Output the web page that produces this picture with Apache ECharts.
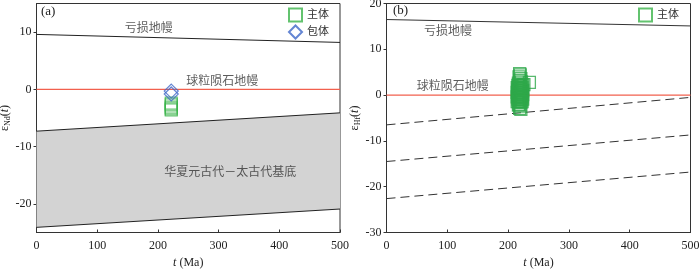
<!DOCTYPE html>
<html><head><meta charset="utf-8">
<script src="https://cdn.jsdelivr.net/npm/echarts@6/dist/echarts.min.js"></script>
<style>html,body{margin:0;padding:0;background:#fff}#c{width:700px;height:269px}</style>
</head><body><div id="c"></div>
<script>
// ---- Data ----
var xTicks = [0, 100, 200, 300, 400, 500];
var yTicksA = [-20, -10, 0, 10];
var yTicksB = [-30, -20, -10, 0, 10, 20];
// Panel (a) εNd(t)
var dmA = [[0, 9.6], [500, 8.2]];
var churA = [[0, 0], [500, 0]];
var baseUpperA = [[0, -7.3], [500, -4.1]];
var baseLowerA = [[0, -24.1], [500, -20.9]];
var mainA = [[222, -2.4], [222, -2.7], [222, -3.1], [222, -3.4], [222, -3.6]];
var inclA = [[222, -0.3], [222, -0.8]];
// Panel (b) εHf(t)
var dmB = [[0, 16.5], [500, 15.1]];
var churB = [[0, 0], [500, 0]];
var dash1B = [[0, -6.5], [500, -0.5]];
var dash2B = [[0, -14.5], [500, -8.7]];
var dash3B = [[0, -22.6], [500, -16.8]];
var mainB = [
  [219,4.7],[220,4.4],[218,4.0],[221,3.6],[219,3.2],[235,2.8],[226,2.3],[217,2.6],[222,2.9],
  [216,2.1],[220,2.0],[224,2.2],[218,2.3],
  [215,1.6],[217,1.5],[219,1.7],[221,1.4],[223,1.6],
  [216,1.1],[218,1.0],[220,1.2],[222,0.9],[224,1.0],
  [215,0.6],[217,0.5],[219,0.7],[221,0.4],[223,0.6],
  [216,0.1],[218,0.0],[220,0.2],[222,-0.1],[224,0.1],
  [215,-0.4],[217,-0.5],[219,-0.3],[221,-0.6],[223,-0.4],
  [216,-0.9],[218,-1.0],[220,-0.8],[222,-1.1],[224,-0.9],
  [215,-1.4],[217,-1.5],[219,-1.3],[221,-1.6],[223,-1.4],
  [218,-2.0],[220,-2.4],[219,-2.9],[221,-3.1],[217,-2.2]
];
// Annotations [x, y, text]
var notesA = [[185, 10.5, '亏损地幔'], [306, 1.3, '球粒陨石地幔'], [319, -14.6, '华夏元古代－太古代基底']];
var notesB = [[101, 13.8, '亏损地幔'], [109, 1.7, '球粒陨石地幔']];

var FONT = '"Liberation Serif", "Noto Sans CJK SC", serif';
var GREEN = '#3cb44b', GREEN_B = '#2ea84a', BLUE = '#3d66c8', RED = '#f2604e', DARK = '#222';

function xAxis(idx) {
  return {
    type: 'value', gridIndex: idx, min: 0, max: 500, interval: 100,
    name: '{i|t} (Ma)', nameLocation: 'middle', nameGap: 24,
    nameTextStyle: { fontFamily: FONT, fontSize: 12, color: DARK, rich: { i: { fontStyle: 'italic', fontFamily: FONT, fontSize: 12 } } },
    axisLine: { onZero: false, lineStyle: { color: '#333', width: 1 } },
    axisTick: { inside: true, length: 3, lineStyle: { color: '#333' } },
    axisLabel: { fontFamily: FONT, fontSize: 12, color: DARK, margin: 7, customValues: xTicks },
    splitLine: { show: false }
  };
}
function yAxis(idx, min, max, ticks, sub) {
  return {
    type: 'value', gridIndex: idx, min: min, max: max, interval: 5,
    name: '{e|ε}{s|' + sub + '}{e|(}{i|t}{e|)}', nameLocation: 'middle', nameGap: 24, nameRotate: 90,
    nameTextStyle: { color: DARK, rich: {
      e: { fontFamily: FONT, fontSize: 12, color: DARK },
      i: { fontFamily: FONT, fontSize: 12, fontStyle: 'italic', color: DARK },
      s: { fontFamily: FONT, fontSize: 8, color: DARK, padding: [6, 0, 0, 0] } } },
    axisLine: { onZero: false, lineStyle: { color: '#333', width: 1 } },
    axisTick: { inside: false, length: 3, lineStyle: { color: '#333' }, customValues: ticks },
    axisLabel: { fontFamily: FONT, fontSize: 12, color: DARK, margin: 5, customValues: ticks },
    splitLine: { show: false }
  };
}
function line(idx, data, color, dashed, extra) {
  var s = { type: 'line', xAxisIndex: idx, yAxisIndex: idx, data: data, symbol: 'none', silent: true,
    lineStyle: { color: color, width: 1, type: dashed ? [9, 5] : 'solid' }, z: 3 };
  if (extra) for (var k in extra) s[k] = extra[k];
  return s;
}
function notes(idx, arr) {
  return { type: 'scatter', xAxisIndex: idx, yAxisIndex: idx, symbolSize: 0, silent: true, z: 5,
    data: arr.map(function (d) { return { value: [d[0], d[1]], label: { formatter: d[2] } }; }),
    label: { show: true, position: 'inside', fontFamily: FONT, fontSize: 12, color: '#333' } };
}

var option = {
  backgroundColor: '#fff',
  animation: false,
  grid: [
    { left: 36.5, right: 360, top: 3.5, bottom: 36.5, show: true, borderColor: '#333', borderWidth: 1,
      backgroundColor: 'transparent', outerBoundsMode: 'none', containLabel: false },
    { left: 386.5, right: 9.5, top: 3.5, bottom: 36.5, show: true, borderColor: '#333', borderWidth: 1,
      backgroundColor: 'transparent', outerBoundsMode: 'none', containLabel: false }
  ],
  xAxis: [xAxis(0), xAxis(1)],
  yAxis: [yAxis(0, -25, 15, yTicksA, 'Nd'), yAxis(1, -30, 20, yTicksB, 'Hf')],
  legend: [
    { data: ['主体', '包体'], orient: 'vertical', left: 288, top: 7.5, padding: 0, itemWidth: 13, itemHeight: 13, itemGap: 2,
      textStyle: { fontFamily: FONT, fontSize: 11, color: '#333' }, selectedMode: false },
    { data: ['主体'], orient: 'vertical', left: 638, top: 7.5, padding: 0, itemWidth: 13, itemHeight: 13,
      textStyle: { fontFamily: FONT, fontSize: 11, color: '#333' }, selectedMode: false }
  ],
  graphic: [
    { type: 'text', left: 41, top: 5, z: 20, style: { text: '(a)', font: '13px "Liberation Serif"', fill: DARK } },
    { type: 'text', left: 393, top: 4, z: 20, style: { text: '(b)', font: '13px "Liberation Serif"', fill: DARK } }
  ],
  series: [
    { type: 'custom', xAxisIndex: 0, yAxisIndex: 0, silent: true, z: 1, clip: true,
      data: [[0, 0]],
      renderItem: function (params, api) {
        var pts = baseUpperA.concat(baseLowerA.slice().reverse()).map(function (d) { return api.coord(d); });
        return { type: 'polygon', shape: { points: pts }, style: { fill: '#d3d3d3', stroke: 'none' } };
      } },
    line(0, baseUpperA, DARK, false),
    line(0, baseLowerA, DARK, false),
    line(0, dmA, DARK, false),
    line(0, churA, RED, false, { lineStyle: { color: RED, width: 1.3 } }),
    { name: '主体', type: 'scatter', xAxisIndex: 0, yAxisIndex: 0, data: mainA, symbol: 'rect', symbolSize: 12, z: 6,
      itemStyle: { color: 'rgba(0,0,0,0)', borderColor: GREEN, borderWidth: 1.2 } },
    { name: '包体', type: 'scatter', xAxisIndex: 0, yAxisIndex: 0, data: inclA, symbol: 'diamond', symbolSize: 14, z: 7,
      itemStyle: { color: 'rgba(0,0,0,0)', borderColor: BLUE, borderWidth: 1.2 } },
    notes(0, notesA),
    line(1, dmB, '#333', false),
    line(1, churB, RED, false, { lineStyle: { color: RED, width: 1.3 } }),
    line(1, dash1B, '#333', true),
    line(1, dash2B, '#333', true),
    line(1, dash3B, '#333', true),
    { name: '主体', type: 'scatter', xAxisIndex: 1, yAxisIndex: 1, data: mainB, symbol: 'rect', symbolSize: 12, z: 6,
      itemStyle: { color: 'rgba(0,0,0,0)', borderColor: GREEN_B, borderWidth: 1.3 } },
    notes(1, notesB)
  ]
};
var chart = echarts.init(document.getElementById('c'), null, { renderer: 'canvas' });
chart.setOption(option);
</script>
</body></html>
